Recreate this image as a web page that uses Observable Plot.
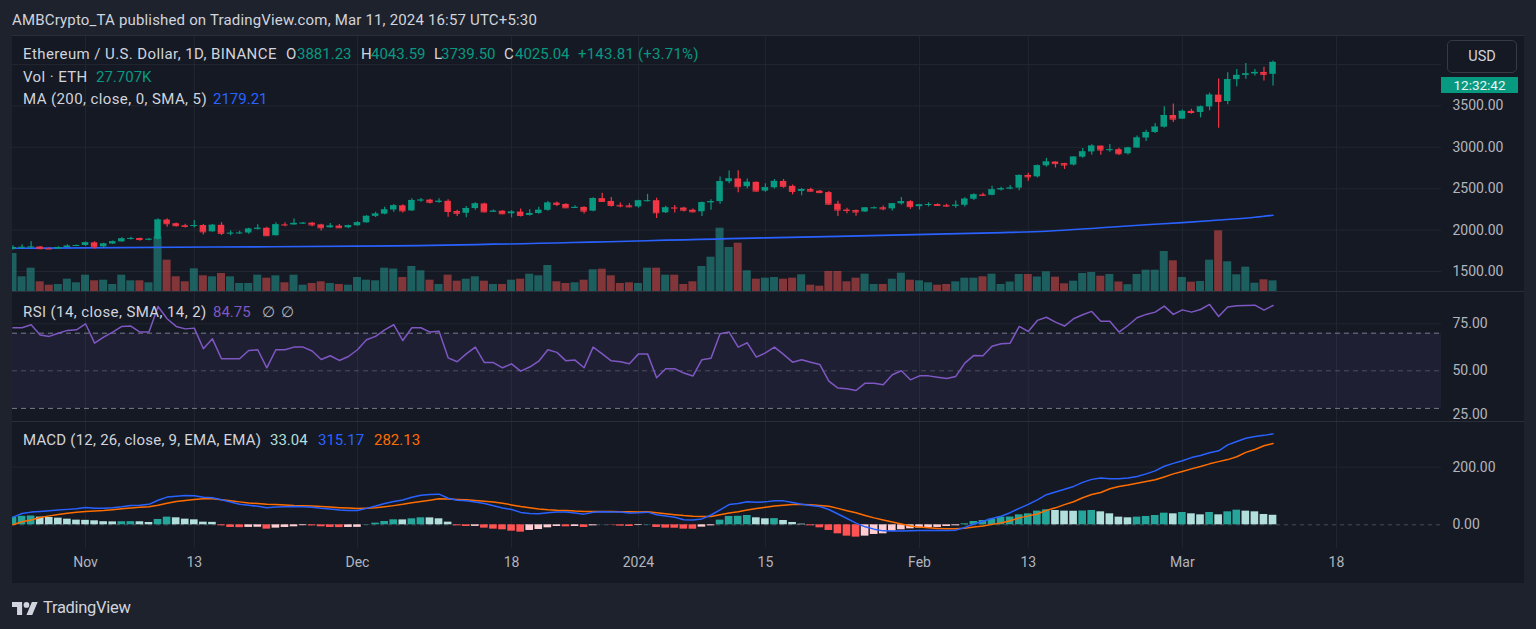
<!DOCTYPE html>
<html><head><meta charset="utf-8">
<script src="https://cdn.jsdelivr.net/npm/d3@7"></script>
<script src="https://cdn.jsdelivr.net/npm/@observablehq/plot@0.6"></script>
<style>
html,body{margin:0;padding:0;background:#1e222d;}
#root{position:relative;width:1536px;height:629px;overflow:hidden;background:#1e222d;font-family:Roboto,"Liberation Sans",sans-serif;}
.pane{position:absolute;left:12px;width:1512px;overflow:hidden;background:#151924;}
.pane svg{display:block;}
.t{position:absolute;white-space:nowrap;font-size:15px;line-height:15px;letter-spacing:0.4px;color:#d1d4dc;}
.sep{position:absolute;left:12px;width:1512px;height:1px;background:#2a2e39;}
</style></head><body><div id="root"></div>
<script>
// ---------------- data ----------------
const firstDay = "2023-10-24";
const opens = [1768,1790,1792,1796,1776,1772,1790,1806,1814,1846,
 1798,1832,1858,1893,1899,1886,1889,2121,2077,2053,
 2045,2055,1979,2058,1961,1963,1965,2012,2022,1932,
 2063,2062,2081,2084,2063,2028,2048,2028,2052,2088,
 2166,2193,2243,2293,2232,2358,2362,2336,2348,2225,
 2203,2260,2316,2220,2228,2197,2218,2177,2201,2239,
 2326,2310,2269,2274,2229,2380,2346,2298,2292,2281,
 2352,2355,2209,2268,2266,2240,2221,2330,2344,2584,
 2618,2524,2577,2471,2511,2588,2528,2467,2490,2470,
 2453,2313,2242,2236,2219,2267,2269,2257,2317,2343,
 2283,2304,2309,2298,2290,2300,2373,2425,2420,2486,
 2500,2507,2660,2643,2777,2822,2803,2786,2881,2944,
 3014,2967,2971,2922,2991,3112,3179,3243,3384,3340,
 3434,3420,3487,3630,3553,3817,3868,3886,3904,3881.23];
const highs = [1810,1822,1858,1802,1790,1800,1822,1820,1856,1860,
 1840,1867,1908,1915,1903,1900,2136,2137,2085,2070,
 2117,2067,2068,2090,1990,1985,2021,2065,2035,2090,
 2090,2135,2093,2092,2072,2080,2068,2060,2102,2175,
 2215,2275,2308,2307,2378,2381,2372,2380,2368,2240,
 2285,2331,2323,2243,2235,2235,2256,2245,2276,2344,
 2340,2318,2294,2283,2390,2445,2395,2328,2320,2360,
 2432,2386,2289,2296,2275,2255,2340,2368,2640,2715,
 2718,2617,2580,2560,2610,2612,2545,2502,2504,2478,
 2465,2347,2263,2242,2274,2278,2290,2322,2395,2355,
 2310,2330,2318,2311,2350,2390,2440,2445,2530,2517,
 2538,2666,2686,2785,2866,2825,2807,2887,2985,3030,
 3015,3034,2988,3000,3135,3207,3287,3490,3524,3449,
 3460,3499,3654,3825,3900,3939,4011,3940,3968,4043.59];
const lows = [1760,1770,1776,1762,1765,1768,1788,1800,1803,1770,
 1780,1826,1854,1880,1866,1870,1880,2035,2038,2025,
 2025,1940,1976,1935,1932,1951,1950,2000,1925,1930,
 2040,2058,2068,2040,1990,2023,2019,2018,2050,2083,
 2153,2185,2215,2208,2225,2336,2316,2325,2155,2165,
 2150,2241,2210,2214,2186,2148,2157,2170,2192,2229,
 2285,2260,2260,2195,2222,2336,2280,2270,2270,2265,
 2340,2140,2200,2208,2220,2205,2163,2240,2312,2560,
 2450,2500,2459,2456,2497,2505,2426,2415,2460,2440,
 2300,2165,2196,2168,2214,2255,2233,2232,2300,2250,
 2242,2280,2290,2275,2265,2280,2356,2407,2414,2472,
 2488,2476,2590,2630,2760,2750,2733,2775,2868,2905,
 2905,2940,2900,2908,2988,3070,3167,3232,3300,3336,
 3400,3355,3440,3230,3515,3730,3822,3860,3800,3739.50];
const closes = [1790,1792,1796,1776,1772,1790,1806,1814,1846,1798,
 1832,1858,1893,1899,1886,1889,2121,2077,2053,2045,
 2055,1979,2058,1961,1963,1965,2012,2022,1932,2063,
 2062,2081,2084,2063,2028,2048,2028,2052,2088,2166,
 2193,2243,2293,2232,2358,2362,2336,2348,2225,2203,
 2260,2316,2220,2228,2197,2218,2177,2201,2239,2326,
 2310,2269,2274,2229,2380,2346,2298,2292,2281,2352,
 2355,2209,2268,2266,2240,2221,2330,2344,2584,2618,
 2524,2577,2471,2511,2588,2528,2467,2490,2470,2453,
 2313,2242,2236,2219,2267,2269,2257,2317,2343,2283,
 2304,2309,2298,2290,2300,2373,2425,2420,2486,2500,
 2507,2660,2643,2777,2822,2803,2786,2881,2944,3014,
 2967,2971,2922,2991,3112,3179,3243,3384,3340,3434,
 3420,3487,3630,3553,3817,3868,3886,3904,3881,4025.04];
// volume, thousand ETH
const volumes = [98.8,38.2,60.6,25.2,16.4,18.2,32,22.6,42.4,27.8,
 29.4,18.2,42.4,27.8,27.8,22.6,142.2,81.4,38.2,25.2,
 59,40.8,38.2,46.8,38.2,20.8,20.8,42.4,34.6,40.8,
 22.6,42.4,16.4,20.8,25.2,20.8,18.2,16.4,36.4,29.4,
 27.8,60.6,58.5,36.4,65,53.8,29.4,18.2,42.4,26.8,
 32,38.2,26.8,18.2,18.2,29.4,32,45,40.8,67.6,
 25.2,20.8,22.6,29.4,56.4,58,40.8,20.8,22.6,20.8,
 60.6,60.6,42.4,42.4,18.2,25.2,65,89.2,164.6,114.4,
 125.6,53.8,32,34.6,36.4,32,34.6,43.4,16.4,13.8,
 52,52,25.2,34.6,45,18.2,18.2,32,47.6,29.4,
 27.8,22.6,16.4,18.2,25.2,34.6,34.6,38.2,45,18.2,
 24.7,44.2,44.2,37.7,51.2,37.2,20,26.8,46.8,49.4,
 39.8,44.2,24.7,17.7,44.2,55.4,55.4,104,79.8,36.4,
 24.2,26,81.4,157.8,77.2,43.4,63.2,21.6,30.4,27.707];
const maDates = ["2023-10-24","2023-11-15","2023-12-05","2024-01-15","2024-02-09","2024-02-15","2024-02-21","2024-02-26","2024-03-01","2024-03-05","2024-03-09","2024-03-11"];
const maValues = [1780,1795,1809,1906,1967,1987,2028,2065,2090,2122,2155,2179.21];
const rsiValues = [72.9,72.9,74.5,69.1,68.3,70.0,71.5,71.8,75.0,64.7,
 67.9,70.6,73.6,73.8,70.6,70.6,84.2,77.7,73.6,72.3,
 72.7,61.7,67.0,56.4,56.4,56.4,60.8,61.2,51.6,61.2,
 61.2,62.6,62.6,60.5,56.0,58.0,55.5,57.6,61.2,66.5,
 68.3,71.8,74.5,66.1,72.9,72.9,70.6,71.1,56.9,54.8,
 59.0,62.6,54.4,54.4,51.6,53.7,49.8,52.0,55.1,61.2,
 59.8,55.3,55.7,51.6,62.6,59.0,55.3,54.8,53.7,59.0,
 59.0,46.3,51.1,51.1,48.8,47.2,55.9,56.7,69.7,70.6,
 62.6,64.9,57.3,59.5,62.6,58.7,54.6,55.9,54.6,53.4,
 44.5,40.8,40.4,39.5,43.4,43.4,42.6,47.9,50.0,45.2,
 47.3,47.3,46.6,45.9,47.0,54.1,58.2,58.0,63.1,64.4,
 64.7,73.6,70.9,76.8,78.5,75.9,73.8,77.7,79.8,81.6,
 76.4,76.4,70.6,74.1,78.2,80.0,81.2,84.4,80.0,82.4,
 81.2,82.6,85.3,78.9,83.9,84.6,84.8,84.9,82.3,84.75];
const rsiLevels = [70, 50, 30];
const macdLine = [26.6,39,44,46.5,49,51.5,53.5,55.4,60,57.5,
 57,59,62.5,67,68,71,85,96,99,102,
 101,95.5,93.5,87,79,71,68,64,59,61.5,
 63,63.5,63,61,57,55,51,50,49.7,57,
 65,74,80.5,86,95.5,102.8,105,106.3,92,85,
 83,79,74,66,58,53,43,39,38.3,42,
 44,44,41,37,43.5,45,44.5,44,41,42,
 43.9,35,30.5,26,17.5,17,20.5,34,52,70,
 74,79.7,78.5,79.5,83,83,77,71,67,63.4,
 53,37.5,22,6,-7,-15,-21,-21.8,-21.2,-20.6,
 -20,-19.7,-19.7,-19.6,-18.5,-9,3,12.5,22,29.5,
 42,57,71,86.5,104.5,114,123,133,147,157.5,
 162.5,160,160,162,167.3,176.6,187,203,213,222,
 233,240,250,256.5,277,289,300,305.9,310,315.17];
const signalLine = [0,10.5,17,25,31,36,40,43.5,46,48,
 49.5,52.5,56,58.5,61,63,68,75,80.5,84.5,
 88,90.1,90.1,87,83,79.5,76,73.5,71.5,70.3,
 69,67,66.3,65,63.5,61.5,59.5,58,56.6,57.5,
 58.9,62.5,66.5,71,76.5,81,85.5,90,89.5,88,
 86.5,84.5,81.5,79,75,69,63.5,59.5,55,52,
 50.5,49.7,47.5,46.2,46.5,46.2,46,45.3,45,44.6,
 45,42,38.5,35,32,30,29,28.9,35,41,
 45,51,56.5,61,65,68,70,70.3,69.5,67,
 64,57,49,41.5,32.5,24.1,16.5,9.5,3,-4,
 -8,-10.5,-12.5,-14,-13.5,-11.5,-8,-4,1.5,6.5,
 14,24,31,37.5,50,58.8,70,80,94,105,
 112,125,133,138,144.3,150,156,166,176.6,185,
 193.9,202,211.3,219,226,236,251,261,274,282.13];
const histValues = [26.6,29.5,30.5,26.6,25.4,23.1,19.6,16.2,15.5,13.9,
 10.8,10.2,10.6,11.0,10.5,8.1,18.5,26.6,24.3,19.6,
 17.3,9.2,8.5,-3.5,-9.2,-9.8,-9.0,-8.5,-15,-11.5,
 -9.2,-6.9,-3.0,-3.8,-6.9,-9.2,-9.6,-9.2,-8.8,1.0,
 5.8,11.5,17.3,17.0,20.8,24.3,24.0,20.8,9.2,-3.5,
 -5.8,-5.5,-11.5,-15,-17.3,-22,-25.4,-19.6,-16.2,-10.4,
 -5.8,-6.9,-5.8,-9.2,-3.5,0.5,-1,-4.6,-5.8,-2.3,
 1,-9.2,-11.5,-11.8,-15,-15.2,-8.1,-3.5,16.2,28.9,
 29.5,32.3,24.3,20.8,21.5,15,8.1,2.3,-3.5,-10.4,
 -19.6,-31.2,-39.3,-42.7,-39.3,-33.5,-31.2,-21.9,-17.3,-13.9,
 -11.5,-10.4,-9.2,-5.8,-3.5,3.5,11.5,15,19.6,26.6,
 27,34.6,38.1,47.4,52,49.7,47.4,47,47.8,49.7,
 45,38.1,26.6,24.3,26.6,28.9,32.3,40.4,38.1,42.7,
 38.1,34.6,42.7,34.6,45,50.8,47.4,45,35.8,33.04];
const tickDates = ["2023-11-01","2023-11-13","2023-12-01","2023-12-18","2024-01-01","2024-01-15","2024-02-01","2024-02-13","2024-03-01","2024-03-18"];
const tickLabels = ["Nov","13","Dec","18","2024","15","Feb","13","Mar","18"];
const priceGrid = [1500, 2000, 2500, 3000, 3500, 4000];
const priceTicks = [1500, 2000, 2500, 3000, 3500];
const rsiTicks = [75, 50, 25];
const macdTicks = [200, 0];

// ---------------- build ----------------
const root = document.getElementById("root");
const DAY = 864e5;
const start = Date.parse(firstDay);
const rows = closes.map((c, i) => ({
  date: new Date(start + i * DAY), open: opens[i], high: highs[i], low: lows[i], close: c,
  volume: volumes[i], rsi: rsiValues[i], macd: macdLine[i], signal: signalLine[i], hist: histValues[i],
  prevHist: i > 0 ? histValues[i - 1] : -Infinity
}));
const ticks = tickDates.map(s => new Date(s));
const maRows = maDates.map((s, i) => ({date: new Date(s), value: maValues[i]}));

const UP = "#089981", DN = "#f23645", GRID = "#222631", AXIS = "#b2b5be";
const FONT = "Roboto, 'Liberation Sans', sans-serif";
const W = 1512, MR = 83;
const xDomain = [new Date(Date.UTC(2023, 9, 23, 22, 40)), new Date(Date.UTC(2024, 2, 29, 14, 2))];
const off = (d, h) => new Date(+d + h * 36e5);
const candleColor = d => d.close >= d.open ? UP : DN;
const base = {width: W, marginLeft: 0, marginRight: MR, marginTop: 0,
  style: {background: "transparent", color: AXIS, fontFamily: FONT, fontSize: "14px"},
  x: {type: "utc", domain: xDomain, axis: null}};
const yLabels = (vals, fmt, dy = 0) => Plot.text(vals, {y: d => d, frameAnchor: "right", dx: 11, dy, textAnchor: "start", text: fmt, fill: AXIS});

function pane(top, height, svg) {
  const div = document.createElement("div");
  div.className = "pane";
  div.style.top = top + "px";
  div.style.height = height + "px";
  div.appendChild(svg);
  root.appendChild(div);
}

// price pane
const pDomain = [1258.5, 4338];
const volScale = (pDomain[1] - pDomain[0]) / 663; // price units per thousand ETH
pane(36, 255, Plot.plot({...base, height: 255, marginBottom: 0,
  y: {domain: pDomain, axis: null},
  marks: [
    Plot.ruleX(ticks, {stroke: GRID}),
    Plot.ruleY(priceGrid, {stroke: GRID}),
    Plot.rect(rows, {x1: d => off(d.date, -10.6), x2: d => off(d.date, 10.6), y1: () => pDomain[0],
      y2: d => pDomain[0] + d.volume * volScale,
      fill: d => d.close >= d.open ? "rgba(38,166,154,0.5)" : "rgba(239,83,80,0.5)"}),
    Plot.line(maRows, {x: "date", y: "value", stroke: "#2962ff", strokeWidth: 1.6, curve: "monotone-x"}),
    Plot.ruleX(rows, {x: "date", y1: "low", y2: "high", stroke: candleColor, strokeWidth: 1.2}),
    Plot.rect(rows, {x1: d => off(d.date, -8.6), x2: d => off(d.date, 8.6), y1: "open", y2: "close", fill: candleColor}),
    Plot.ruleY(rows, {y: "close", x1: d => off(d.date, -8.6), x2: d => off(d.date, 8.6), stroke: candleColor}),
    yLabels(priceTicks, d => d.toFixed(2))
  ]}));

// RSI pane
pane(292, 129, Plot.plot({...base, height: 129, marginBottom: 0,
  y: {domain: [23.03, 91.65], axis: null},
  marks: [
    Plot.ruleX(ticks, {stroke: GRID}),
    Plot.ruleY([rsiTicks[0]], {stroke: GRID}),
    Plot.rect([rsiLevels], {x1: () => xDomain[0], x2: () => xDomain[1], y1: d => d[2], y2: d => d[0], fill: "rgba(126,87,194,0.1)"}),
    Plot.ruleY(rsiLevels, {stroke: d => d === 50 ? "rgba(120,123,134,0.5)" : "#787b86", strokeDasharray: "5,4"}),
    Plot.line(rows, {x: "date", y: "rsi", stroke: "#7e57c2", strokeWidth: 1.5}),
    yLabels(rsiTicks.slice(0, 2), d => d.toFixed(2)),
    yLabels(rsiTicks.slice(2), d => d.toFixed(2), -3)
  ]}));

// MACD pane
const histColor = d => d.hist >= 0 ? (d.hist >= d.prevHist ? "#26a69a" : "#b2dfdb") : (d.hist <= d.prevHist ? "#ff5252" : "#ffcdd2");
pane(422, 161, Plot.plot({...base, height: 161, marginBottom: 35,
  y: {domain: [-82.1, 354.6], axis: null},
  marks: [
    Plot.ruleX(ticks, {stroke: GRID}),
    Plot.ruleY([macdTicks[0]], {stroke: GRID}),
    Plot.ruleY([0], {stroke: "rgba(120,123,134,0.5)", strokeDasharray: "4,4"}),
    Plot.rect(rows, {x1: d => off(d.date, -10.1), x2: d => off(d.date, 10.1), y1: () => 0, y2: "hist", fill: histColor}),
    Plot.line(rows, {x: "date", y: "signal", stroke: "#ff6d00", strokeWidth: 1.5}),
    Plot.line(rows, {x: "date", y: "macd", stroke: "#2962ff", strokeWidth: 1.5}),
    yLabels(macdTicks, d => d.toFixed(2)),
    Plot.text(ticks, {x: d => d, frameAnchor: "bottom", dy: 18.7, text: (d, i) => tickLabels[i], fill: AXIS})
  ]}));

// separators
[35, 291, 421].forEach(y => { const s = document.createElement("div"); s.className = "sep"; s.style.top = y + "px"; root.appendChild(s); });

// texts
function txt(x, y, s, color, extra) {
  const e = document.createElement("div");
  e.className = "t";
  e.style.left = x + "px"; e.style.top = (y - 7.5) + "px";
  if (color) e.style.color = color;
  if (extra) Object.assign(e.style, extra);
  e.textContent = s;
  root.appendChild(e);
  return e;
}
txt(12, 20, "AMBCrypto_TA published on TradingView.com, Mar 11, 2024 16:57 UTC+5:30", "#d1d4dc", {letterSpacing: "0.17px"});
txt(23, 54, "Ethereum / U.S. Dollar, 1D, BINANCE");
txt(286, 54, "O"); txt(297, 54, "3881.23", UP, {letterSpacing: "0"});
txt(361, 54, "H"); txt(371, 54, "4043.59", UP, {letterSpacing: "0"});
txt(434, 54, "L"); txt(441, 54, "3739.50", UP, {letterSpacing: "0"});
txt(504, 54, "C"); txt(515, 54, "4025.04", UP, {letterSpacing: "0"});
txt(578, 54, "+143.81 (+3.71%)", UP, {letterSpacing: "0.2px"});
txt(23, 77, "Vol · ETH"); txt(96, 77, "27.707K", UP, {letterSpacing: "0"});
txt(23, 99, "MA (200, close, 0, SMA, 5)"); txt(213, 99, "2179.21", "#2962ff", {letterSpacing: "0"});
txt(23, 312, "RSI (14, close, SMA, 14, 2)"); txt(213, 312, "84.75", "#7e57c2", {letterSpacing: "0"});
txt(262, 312, "∅", AXIS); txt(281, 312, "∅", AXIS);
txt(23, 440, "MACD (12, 26, close, 9, EMA, EMA)", null, {letterSpacing: "0.22px"}); txt(270, 440, "33.04", "#b2dfdb", {letterSpacing: "0"});
txt(318, 440, "315.17", "#2962ff", {letterSpacing: "0"}); txt(374, 440, "282.13", "#ff6d00", {letterSpacing: "0"});

// countdown label + currency button
const lab = document.createElement("div");
Object.assign(lab.style, {position: "absolute", left: "1441px", top: "77px", width: "77px", height: "16px", background: "#089981", overflow: "hidden"});
const labT = document.createElement("div");
Object.assign(labT.style, {position: "absolute", left: "0", width: "77px", top: "0", textAlign: "center", fontSize: "13.5px", lineHeight: "16px", color: "#e8f5f2"});
labT.textContent = "12:32:42";
lab.appendChild(labT); root.appendChild(lab);
const usd = document.createElement("div");
Object.assign(usd.style, {position: "absolute", left: "1447px", top: "40px", width: "68px", height: "31px", border: "1px solid #363a45", borderRadius: "5px", background: "#151924", color: "#d1d4dc", fontSize: "14.5px", lineHeight: "31px", textAlign: "center"});
usd.textContent = "USD";
root.appendChild(usd);

// footer logo
const logo = document.createElement("div");
Object.assign(logo.style, {position: "absolute", left: "12px", top: "600px"});
logo.innerHTML = '<svg width="26" height="13" viewBox="0 4 36 18"><path d="M14 22H7V11H0V4h14v18zM28 22h-8l7.5-18h8L28 22z" fill="#d1d4dc"/><circle cx="20" cy="8" r="4" fill="#d1d4dc"/></svg>';
root.appendChild(logo);
txt(43, 607, "TradingView", "#d1d4dc", {fontSize: "16.5px", lineHeight: "16px", letterSpacing: "-0.3px"});
</script></body></html>
